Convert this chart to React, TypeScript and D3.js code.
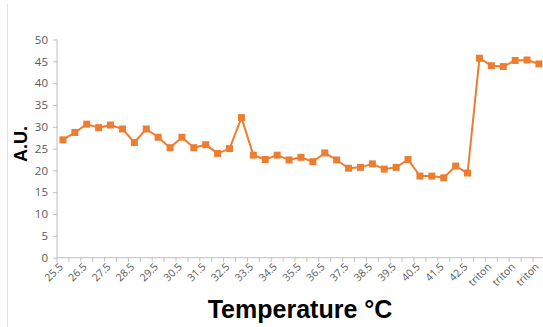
import React, { useEffect, useRef } from "react";
import * as d3 from "d3";

// categories along the x axis
const temperatures = [
  "25.5", "26", "26.5", "27", "27.5", "28", "28.5", "29", "29.5", "30",
  "30.5", "31", "31.5", "32", "32.5", "33", "33.5", "34", "34.5", "35",
  "35.5", "36", "36.5", "37", "37.5", "38", "38.5", "39", "39.5", "40",
  "40.5", "41", "41.5", "42", "42.5",
];
const tritonLabels = ["triton", "triton", "triton", "triton", "triton", "triton"];

// A.U. readings
const temperatureValues = [
  27.0, 28.7, 30.6, 29.8, 30.4, 29.5, 26.4, 29.5, 27.6, 25.2,
  27.6, 25.2, 25.9, 23.9, 25.0, 32.1, 23.5, 22.5, 23.5, 22.4,
  23.0, 22.0, 24.0, 22.4, 20.5, 20.7, 21.5, 20.3, 20.7, 22.5,
  18.7, 18.7, 18.3, 21.0, 19.4,
];
const tritonValues = [45.7, 44.0, 43.8, 45.2, 45.3, 44.4];

const yTicks = [0, 5, 10, 15, 20, 25, 30, 35, 40, 45, 50];

const App: React.FC = () => {
  const ref = useRef<SVGSVGElement | null>(null);

  useEffect(() => {
    const svg = d3.select(ref.current);
    svg.selectAll("*").remove();

    const W = 543;
    const H = 327;
    const left = 57;
    const top = 39.5;
    const bottom = 257.7;
    const step = 11.9;

    const cats = [...temperatures, ...tritonLabels];
    const vals = [...temperatureValues, ...tritonValues];
    const data = cats.map((c, i) => ({ i, c, v: vals[i] }));

    const x = d3
      .scaleBand<number>()
      .domain(data.map((d) => d.i))
      .range([left, left + step * cats.length])
      .padding(0);
    const y = d3.scaleLinear().domain([0, 50]).range([bottom, top]);
    const cx = (i: number) => (x(i) as number) + x.bandwidth() / 2;

    // faint frame line on the left
    svg
      .append("line")
      .attr("x1", 7.5)
      .attr("x2", 7.5)
      .attr("y1", 4)
      .attr("y2", H)
      .attr("stroke", "#e2e2e2")
      .attr("stroke-width", 1);

    // y axis
    const yAxis = svg
      .append("g")
      .attr("transform", `translate(${left},0)`)
      .call(d3.axisLeft(y).tickValues(yTicks).tickSize(4).tickPadding(5));
    yAxis.select(".domain").attr("stroke", "#bfbfbf").attr("d", `M0,${top}V${bottom}`);
    yAxis.selectAll(".tick line").attr("stroke", "#bfbfbf");
    yAxis
      .selectAll(".tick text")
      .attr("fill", "#595959")
      .style("font-family", "'Open Sans', sans-serif")
      .style("font-size", "11.5px");

    // x axis line and boundary ticks
    const xg = svg.append("g");
    xg.append("line")
      .attr("x1", left)
      .attr("x2", W)
      .attr("y1", bottom)
      .attr("y2", bottom)
      .attr("stroke", "#bfbfbf");
    xg.selectAll("line.tk")
      .data(d3.range(cats.length + 1))
      .join("line")
      .attr("class", "tk")
      .attr("x1", (i) => left + i * x.step())
      .attr("x2", (i) => left + i * x.step())
      .attr("y1", bottom)
      .attr("y2", bottom + 4)
      .attr("stroke", "#bfbfbf");

    // rotated category labels (every other one)
    xg.selectAll("text")
      .data(data.filter((d) => d.i % 2 === 0))
      .join("text")
      .attr("transform", (d) => `translate(${cx(d.i) - 3},${bottom + 6}) rotate(-45)`)
      .attr("text-anchor", "end")
      .attr("dy", "0.5em")
      .attr("fill", "#595959")
      .style("font-family", "'Open Sans', sans-serif")
      .style("font-size", "10.5px")
      .text((d) => d.c);

    // series line
    const line = d3
      .line<{ i: number; v: number }>()
      .x((d) => cx(d.i))
      .y((d) => y(d.v));
    svg
      .append("path")
      .datum(data)
      .attr("fill", "none")
      .attr("stroke", "#ED7D31")
      .attr("stroke-width", 2)
      .attr("stroke-linejoin", "round")
      .attr("d", line);

    // square markers
    svg
      .append("g")
      .selectAll("rect")
      .data(data)
      .join("rect")
      .attr("x", (d) => cx(d.i) - 3.5)
      .attr("y", (d) => y(d.v) - 3.5)
      .attr("width", 7)
      .attr("height", 7)
      .attr("fill", "#ED7D31");

    // axis titles
    svg
      .append("text")
      .attr("transform", `translate(27,144) rotate(-90)`)
      .attr("text-anchor", "middle")
      .style("font-family", "'Liberation Sans', Arial, sans-serif")
      .style("font-weight", "bold")
      .style("font-size", "18px")
      .attr("fill", "#000")
      .text("A.U.");

    svg
      .append("text")
      .attr("x", 300)
      .attr("y", 318)
      .attr("text-anchor", "middle")
      .style("font-family", "'Liberation Sans', Arial, sans-serif")
      .style("font-weight", "bold")
      .style("font-size", "25px")
      .attr("fill", "#000")
      .text("Temperature °C");
  }, []);

  return (
    <svg
      ref={ref}
      width={543}
      height={327}
      style={{ position: "absolute", left: 0, top: 0, background: "#fff" }}
    />
  );
};

export default App;
